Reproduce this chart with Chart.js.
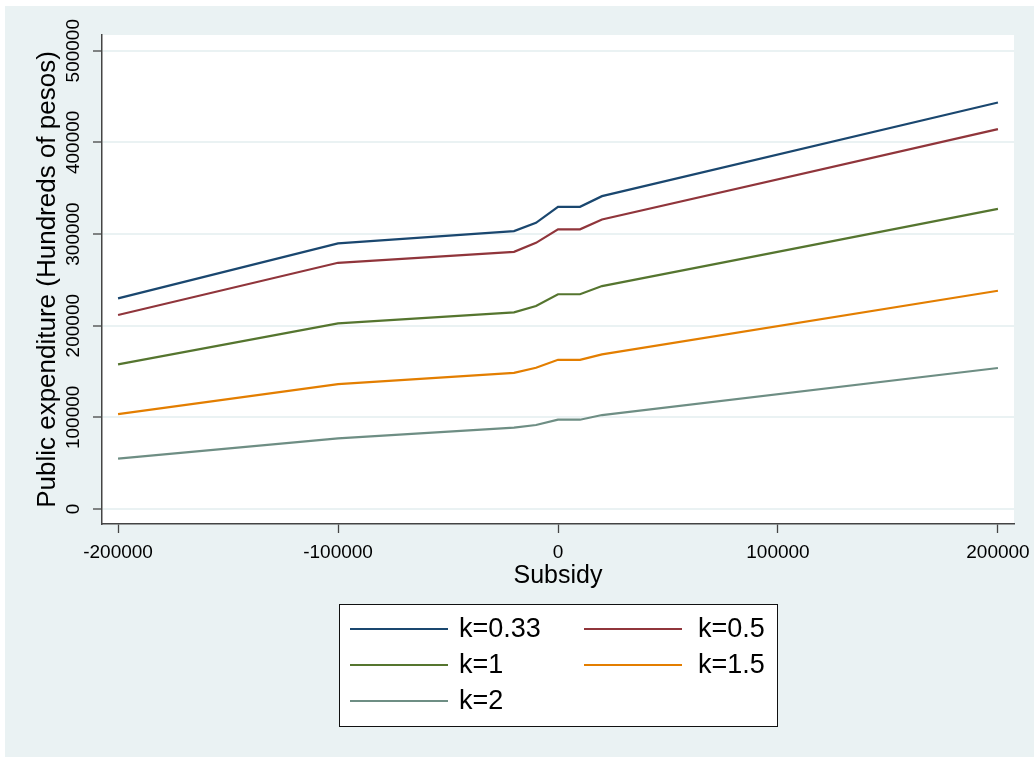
<!DOCTYPE html>
<html><head><meta charset="utf-8">
<script src="https://cdn.jsdelivr.net/npm/chart.js@4.4.1/dist/chart.umd.min.js"></script>
<style>html,body{margin:0;padding:0;background:#fff;}canvas{display:block;}</style>
</head><body>
<canvas id="c" width="1034" height="757"></canvas>
<script>
const subsidy = [-200000, -100000, -20000, -10000, 0, 10000, 20000, 200000];
const k033 = [229800, 289700, 303200, 312200, 329700, 329700, 341300, 443500];
const k05  = [211600, 268600, 280600, 290400, 305100, 305100, 315900, 414400];
const k1   = [157800, 202500, 214500, 221400, 234300, 234300, 243200, 327500];
const k15  = [103600, 136300, 148600, 154100, 162800, 162800, 168700, 238100];
const k2   = [54900, 77100, 88700, 91600, 97400, 97400, 102500, 153800];
const seriesLabels = ['k=0.33', 'k=0.5', 'k=1', 'k=1.5', 'k=2'];
const seriesData = [k033, k05, k1, k15, k2];
const seriesColors = ['#1a476f', '#90353b', '#55752f', '#e37e00', '#6e8e84'];
const xTicks = [-200000, -100000, 0, 100000, 200000];
const yTicks = [0, 100000, 200000, 300000, 400000, 500000];
const xTitle = 'Subsidy';
const yTitle = 'Public expenditure (Hundreds of pesos)';

const FONT = '"Liberation Sans", Arial, sans-serif';
const BG = '#eaf2f3';

const bgPlugin = {
  id: 'bg',
  beforeDraw(chart) {
    const {ctx, width, height, chartArea: a} = chart;
    ctx.save();
    ctx.fillStyle = '#fff';
    ctx.fillRect(0, 0, width, height);
    ctx.fillStyle = BG;
    ctx.fillRect(5, 6, width - 5, height - 6);
    ctx.fillStyle = '#fff';
    ctx.fillRect(a.left, a.top, a.right - a.left, a.bottom - a.top);
    ctx.restore();
  }
};

const legendPlugin = {
  id: 'stataLegend',
  afterDraw(chart) {
    const ctx = chart.ctx;
    ctx.save();
    ctx.fillStyle = '#fff';
    ctx.fillRect(339.5, 604.5, 438, 122);
    ctx.strokeStyle = '#111';
    ctx.lineWidth = 1;
    ctx.strokeRect(339.5, 604.5, 438, 122);
    const cols = [{lx: 350, tx: 459}, {lx: 584, tx: 698}];
    const rows = [629, 665, 701];
    chart.data.datasets.forEach((ds, i) => {
      const c = cols[i % 2], y = rows[Math.floor(i / 2)];
      ctx.strokeStyle = ds.borderColor;
      ctx.lineWidth = 2;
      ctx.beginPath();
      ctx.moveTo(c.lx, y);
      ctx.lineTo(c.lx + 98, y);
      ctx.stroke();
      ctx.fillStyle = '#000';
      ctx.font = '27px ' + FONT;
      ctx.textBaseline = 'middle';
      ctx.textAlign = 'left';
      ctx.fillText(ds.label, c.tx, y + 1);
    });
    ctx.restore();
  }
};

const datasets = seriesLabels.map((lab, i) => ({
  label: lab,
  data: subsidy.map((x, j) => ({x: x, y: seriesData[i][j]})),
  borderColor: seriesColors[i],
  backgroundColor: seriesColors[i],
  borderWidth: 2.2,
  pointRadius: 0,
  tension: 0,
  fill: false
}));

new Chart(document.getElementById('c'), {
  type: 'line',
  data: {datasets},
  options: {
    responsive: false,
    animation: false,
    devicePixelRatio: 1,
    layout: {padding: {left: 0, right: 20, top: 35, bottom: 157}},
    plugins: {legend: {display: false}, tooltip: {enabled: false}},
    scales: {
      x: {
        type: 'linear',
        min: -207300,
        max: 207300,
        afterFit(s) { s.height = 76; s.paddingLeft = 0; s.paddingRight = 0; },
        afterBuildTicks(s) { s.ticks = xTicks.map(v => ({value: v})); },
        grid: {display: true, drawOnChartArea: false, drawTicks: true, tickLength: 9, tickColor: '#444', tickWidth: 1.3},
        border: {display: true, color: '#444', width: 1.5},
        ticks: {
          autoSkip: false, maxRotation: 0, minRotation: 0, padding: 8,
          color: '#000', font: {family: FONT, size: 19},
          callback: v => String(v)
        },
        title: {display: true, text: xTitle, color: '#000', font: {family: FONT, size: 25}, padding: {top: 0, bottom: 9}}
      },
      y: {
        type: 'linear',
        min: -16365,
        max: 517130,
        afterFit(s) { s.width = 102; s.paddingTop = 0; s.paddingBottom = 0; },
        afterBuildTicks(s) { s.ticks = yTicks.map(v => ({value: v})); },
        grid: {display: true, color: BG, lineWidth: 2, drawTicks: true, tickLength: 9, tickColor: '#444', tickWidth: 1.3},
        border: {display: true, color: '#444', width: 1.5},
        ticks: {
          autoSkip: false, minRotation: 90, maxRotation: 90, crossAlign: 'center', padding: -12,
          color: '#000', font: {family: FONT, size: 19},
          callback: v => String(v)
        },
        title: {display: true, text: yTitle, color: '#000', font: {family: FONT, size: 26}, padding: {top: 32, bottom: 0}}
      }
    }
  },
  plugins: [bgPlugin, legendPlugin]
});
</script>
</body></html>
